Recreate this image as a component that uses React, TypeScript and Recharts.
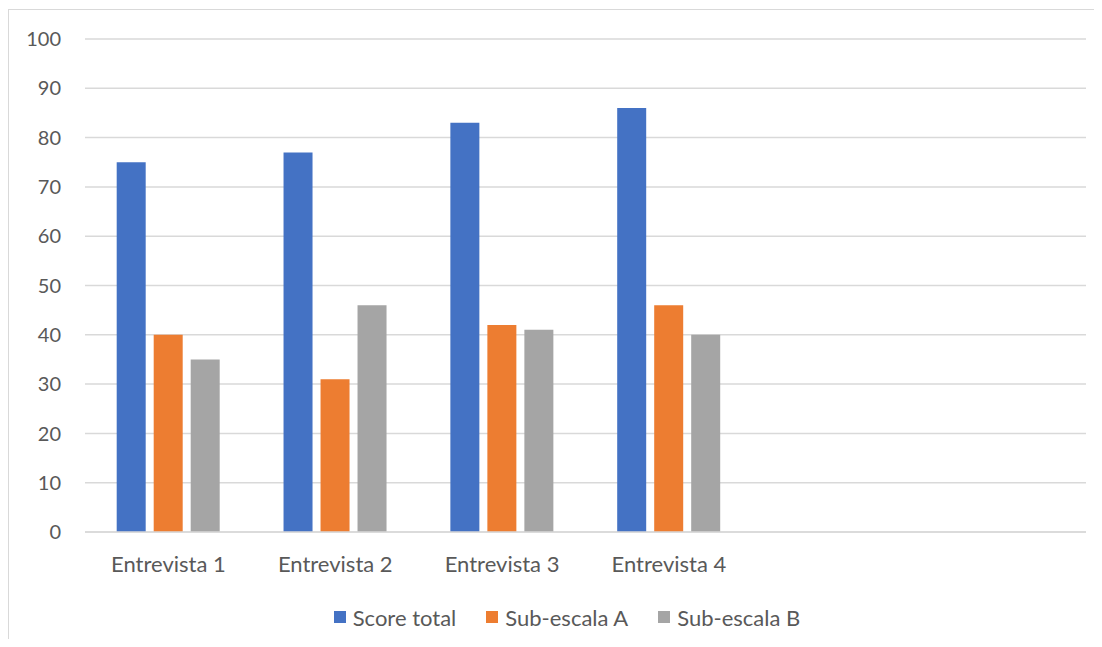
import { Bar, BarChart, CartesianGrid, Legend, XAxis, YAxis } from 'recharts';

const categories = ['Entrevista 1', 'Entrevista 2', 'Entrevista 3', 'Entrevista 4', '', ''];
const scoreTotal = [75, 77, 83, 86, null, null];
const subEscalaA = [40, 31, 42, 46, null, null];
const subEscalaB = [35, 46, 41, 40, null, null];
const yTicks = [0, 10, 20, 30, 40, 50, 60, 70, 80, 90, 100];

const series = [
  { key: 'score', name: 'Score total', color: '#4472C4' },
  { key: 'subA', name: 'Sub-escala A', color: '#ED7D31' },
  { key: 'subB', name: 'Sub-escala B', color: '#A5A5A5' }
];

const data = categories.map((name, i) => ({
  name,
  score: scoreTotal[i],
  subA: subEscalaA[i],
  subB: subEscalaB[i]
}));

const FONT = 'Lato, "Open Sans", sans-serif';
const TEXT = '#595959';

function LegendContent() {
  return (
    <div
      style={{
        height: 30,
        display: 'flex',
        alignItems: 'center',
        justifyContent: 'center',
        paddingLeft: 48,
        fontFamily: FONT,
        fontSize: 22,
        color: TEXT
      }}
    >
      {series.map((s, i) => (
        <div key={s.key} style={{ display: 'flex', alignItems: 'center', marginLeft: i === 0 ? 0 : 30 }}>
          <span style={{ width: 12, height: 12, background: s.color, marginRight: 7, display: 'inline-block' }} />
          <span>{s.name}</span>
        </div>
      ))}
    </div>
  );
}

export default function App() {
  return (
    <div style={{ margin: -8, width: 1102, height: 647, position: 'relative', overflow: 'hidden', background: '#fff' }}>
      <div
        style={{
          position: 'absolute',
          left: 8,
          top: 9,
          width: 1200,
          height: 800,
          border: '1px solid #D9D9D9'
        }}
      />
      <BarChart
        width={1102}
        height={647}
        data={data}
        margin={{ top: 39, right: 16, bottom: 15, left: 0 }}
        barCategoryGap="19%"
        barGap={8}
      >
        <CartesianGrid vertical={false} stroke="#D9D9D9" strokeWidth={1.5} />
        <XAxis
          dataKey="name"
          height={70}
          axisLine={{ stroke: '#D9D9D9', strokeWidth: 1.5 }}
          tickLine={false}
          tickMargin={18}
          tick={{ fill: TEXT, fontSize: 22, fontFamily: FONT }}
          interval={0}
        />
        <YAxis
          width={85}
          domain={[0, 100]}
          ticks={yTicks}
          axisLine={false}
          tickLine={false}
          tickMargin={18}
          tick={{ fill: TEXT, fontSize: 20, fontFamily: FONT }}
        />
        <Legend verticalAlign="bottom" content={<LegendContent />} />
        {series.map((s) => (
          <Bar key={s.key} dataKey={s.key} name={s.name} fill={s.color} isAnimationActive={false} />
        ))}
      </BarChart>
    </div>
  );
}
